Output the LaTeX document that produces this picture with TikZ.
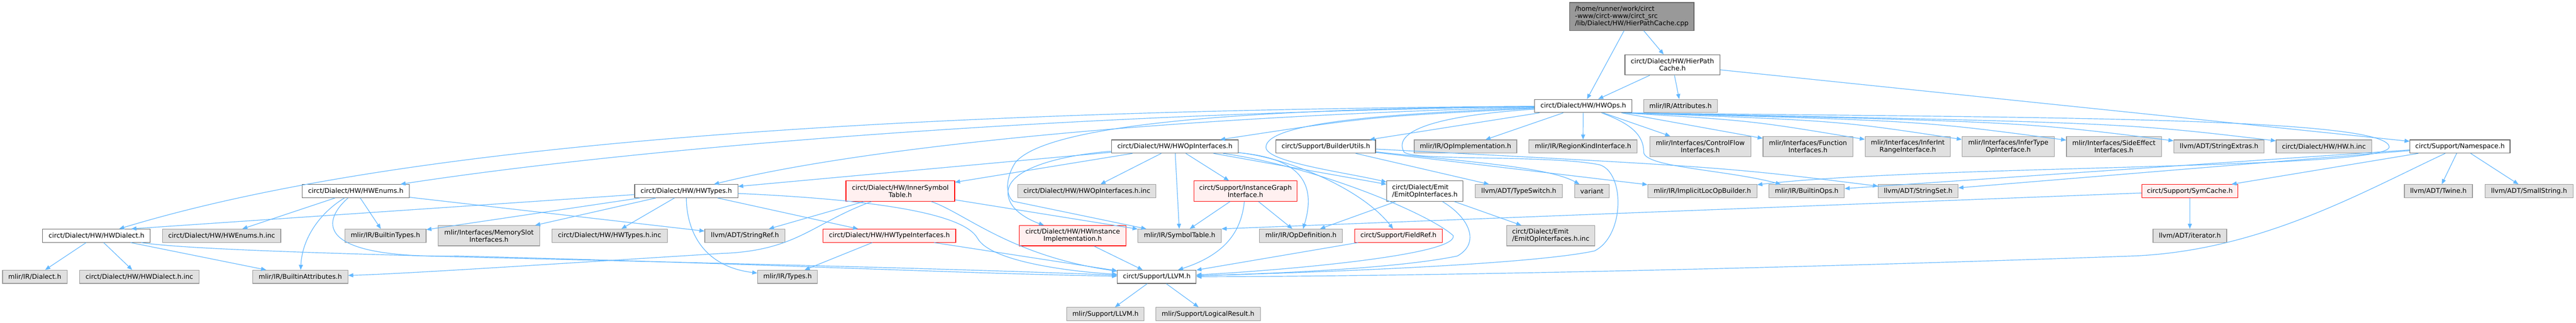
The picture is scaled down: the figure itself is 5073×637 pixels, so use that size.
\documentclass[tikz,border=0pt]{standalone}
\usepackage{fontspec}
\setmainfont{DejaVu Sans}
\usetikzlibrary{arrows.meta}
\definecolor{edgec}{HTML}{63B8FF}
\definecolor{gfill}{HTML}{E0E0E0}
\definecolor{gdraw}{HTML}{999999}
\definecolor{wdraw}{HTML}{666666}
\definecolor{rfill}{HTML}{FFF0F0}
\definecolor{rdraw}{HTML}{FF0000}
\definecolor{sfill}{HTML}{999999}
\tikzset{
  base/.style={rectangle, inner sep=0pt, line width=0.9pt, font=\fontsize{9.7}{10.75}\selectfont, align=center, text=black},
  gbox/.style={base, draw=gdraw, fill=gfill},
  wbox/.style={base, draw=wdraw, fill=white},
  rbox/.style={base, draw=rdraw, fill=rfill},
  sbox/.style={base, draw=wdraw, fill=sfill, align=left},
  edge/.style={draw=edgec, line width=0.9pt, -{Triangle[length=7.5pt,width=6pt]}},
}
\newcommand{\NB}[7]{\node[#1, minimum width=#5*0.75pt, minimum height=#6*0.75pt] (#2) at (#3,#4) {#7};}
\begin{document}
\begin{tikzpicture}[x=0.75pt,y=-0.75pt]
\useasboundingbox[fill=white] (0,0) rectangle (5073,637);
% row 0-2
\NB{sbox}{src}{3213.5}{32.5}{245}{55}{/home/runner/work/circt\\-www/circt-www/circt\_src\\/lib/Dialect/HW/HierPathCache.cpp}
\NB{wbox}{hpc}{3293.5}{128}{187}{40}{circt/Dialect/HW/HierPath\\Cache.h}
\NB{wbox}{hwops}{3118}{209}{192}{26}{circt/Dialect/HW/HWOps.h}
\NB{gbox}{attr}{3309.5}{209}{145}{26}{mlir/IR/Attributes.h}
% row 3
\NB{wbox}{hwopif}{2313.7}{289}{250}{26}{circt/Dialect/HW/HWOpInterfaces.h}
\NB{wbox}{bu}{2611}{289}{196}{26}{circt/Support/BuilderUtils.h}
\NB{gbox}{opimpl}{2886}{289}{202}{26}{mlir/IR/OpImplementation.h}
\NB{gbox}{regkind}{3117.5}{289}{213}{26}{mlir/IR/RegionKindInterface.h}
\NB{gbox}{cflow}{3348.5}{289}{199}{40}{mlir/Interfaces/ControlFlow\\Interfaces.h}
\NB{gbox}{func}{3560.5}{289}{177}{40}{mlir/Interfaces/Function\\Interfaces.h}
\NB{gbox}{inferint}{3757}{289}{168}{40}{mlir/Interfaces/InferInt\\RangeInterface.h}
\NB{gbox}{infertype}{3955}{289}{182}{40}{mlir/Interfaces/InferType\\OpInterface.h}
\NB{gbox}{sideeff}{4163}{289}{187}{40}{mlir/Interfaces/SideEffect\\Interfaces.h}
\NB{gbox}{strext}{4370}{289}{178}{26}{llvm/ADT/StringExtras.h}
\NB{gbox}{hwinc}{4576.5}{289}{188}{26}{circt/Dialect/HW/HW.h.inc}
\NB{wbox}{ns}{4844.5}{289}{197}{26}{circt/Support/Namespace.h}
% row 4
\NB{wbox}{hwenums}{700.5}{377}{211}{26}{circt/Dialect/HW/HWEnums.h}
\NB{wbox}{hwtypes}{1351.5}{377}{203}{26}{circt/Dialect/HW/HWTypes.h}
\NB{rbox}{innersym}{1773}{377}{214}{40}{circt/Dialect/HW/InnerSymbol\\Table.h}
\NB{gbox}{hwopifinc}{2140.5}{377}{272}{26}{circt/Dialect/HW/HWOpInterfaces.h.inc}
\NB{rbox}{igi}{2452.7}{377}{203}{40}{circt/Support/InstanceGraph\\Interface.h}
\node[wbox, align=left, minimum width=150*0.75pt, minimum height=40*0.75pt] (emitif) at (2806,377) {circt/Dialect/Emit\\/EmitOpInterfaces.h};
\NB{gbox}{typeswitch}{2991}{377}{171}{26}{llvm/ADT/TypeSwitch.h}
\NB{gbox}{variant}{3135}{377}{68}{26}{variant}
\NB{gbox}{implicit}{3352.5}{377}{215}{26}{mlir/IR/ImplicitLocOpBuilder.h}
\NB{gbox}{builtinops}{3558}{377}{148}{26}{mlir/IR/BuiltinOps.h}
\NB{gbox}{strset}{3777.5}{377}{157}{26}{llvm/ADT/StringSet.h}
\NB{rbox}{symcache}{4312.5}{377}{189}{26}{circt/Support/SymCache.h}
\NB{gbox}{twine}{4802}{377}{134}{26}{llvm/ADT/Twine.h}
\NB{gbox}{smallstr}{4980.5}{377}{173}{26}{llvm/ADT/SmallString.h}
% row 5
\NB{wbox}{hwdialect}{190}{465}{212}{26}{circt/Dialect/HW/HWDialect.h}
\NB{gbox}{hwenumsinc}{436.5}{465}{233}{26}{circt/Dialect/HW/HWEnums.h.inc}
\NB{gbox}{builtintypes}{759}{465}{160}{26}{mlir/IR/BuiltinTypes.h}
\NB{gbox}{memslot}{963}{465}{200}{40}{mlir/Interfaces/MemorySlot\\Interfaces.h}
\NB{gbox}{hwtypesinc}{1200.5}{465}{227}{26}{circt/Dialect/HW/HWTypes.h.inc}
\NB{gbox}{strref}{1467}{465}{158}{26}{llvm/ADT/StringRef.h}
\NB{rbox}{hwtypeif}{1751.5}{465}{261}{26}{circt/Dialect/HW/HWTypeInterfaces.h}
\NB{rbox}{hwinst}{2112.5}{465}{210}{40}{circt/Dialect/HW/HWInstance\\Implementation.h}
\NB{gbox}{symtab}{2323}{465}{164}{26}{mlir/IR/SymbolTable.h}
\NB{gbox}{opdef}{2562}{465}{163}{26}{mlir/IR/OpDefinition.h}
\NB{rbox}{fieldref}{2754}{465}{172}{26}{circt/Support/FieldRef.h}
\node[gbox, align=left, minimum width=174*0.75pt, minimum height=40*0.75pt] (emitinc) at (3054,465) {circt/Dialect/Emit\\/EmitOpInterfaces.h.inc};
\NB{gbox}{iter}{4312.5}{465}{145}{26}{llvm/ADT/iterator.h}
% row 6
\NB{gbox}{dialect}{68.5}{546}{127}{26}{mlir/IR/Dialect.h}
\NB{gbox}{hwdialectinc}{274.5}{546}{235}{26}{circt/Dialect/HW/HWDialect.h.inc}
\NB{gbox}{builtinattr}{591.5}{546}{187}{26}{mlir/IR/BuiltinAttributes.h}
\NB{gbox}{types}{1551}{546}{118}{26}{mlir/IR/Types.h}
\NB{wbox}{llvm}{2278}{546}{155}{26}{circt/Support/LLVM.h}
% row 7
\NB{gbox}{mllvm}{2177}{619.5}{152}{26}{mlir/Support/LLVM.h}
\NB{gbox}{logres}{2379}{619.5}{206}{26}{mlir/Support/LogicalResult.h}

% ---- edges ----
\draw[edge] (src) -- (hwops);
\draw[edge] (src) -- (hpc);
\draw[edge] (hpc) -- (hwops);
\draw[edge] (hpc) -- (attr);
\draw[edge] (hpc) -- (ns);
% HWOps
\draw[edge] (hwops) .. controls (1500,220) and (700,310) .. (hwdialect);
\draw[edge] (hwops) .. controls (2000,225) and (1200,300) .. (hwenums);
\draw[edge] (hwops) .. controls (2300,230) and (1700,290) .. (hwtypes);
\draw[edge] (hwops) .. controls (2700,230) .. (hwopif);
\draw[edge] (hwops) -- (bu);
\draw[edge] (hwops) -- (opimpl);
\draw[edge] (hwops) -- (regkind);
\draw[edge] (hwops) -- (cflow);
\draw[edge] (hwops) -- (func);
\draw[edge] ([xshift=-14pt]hwops.south east) .. controls (3450,238) .. (inferint);
\draw[edge] ([xshift=-10pt]hwops.south east) .. controls (3620,238) .. (infertype);
\draw[edge] ([xshift=-7pt]hwops.south east) .. controls (3780,238) .. (sideeff);
\draw[edge] ([xshift=-4pt]hwops.south east) .. controls (3980,240) .. (strext);
\draw[edge] ([xshift=-2pt]hwops.south east) .. controls (4180,242) .. (hwinc);
\draw[edge] (hwops) .. controls (2400,215) and (2060,250) .. (2000,320) .. controls (1980,350) and (1980,385) .. (1995,397) -- (symtab);
\draw[edge] (hwops) .. controls (2700,225) and (2495,245) .. (2493,290) .. controls (2492,320) and (2650,340) .. (emitif);
\draw[edge] (hwops) .. controls (2800,230) and (2745,265) .. (2765,300) .. controls (2785,318) and (3050,305) .. (3150,325) .. controls (3200,340) and (3200,465) .. (3140,495) .. controls (3000,525) and (2500,540) .. (llvm);
\draw[edge] (hwops) .. controls (3200,240) and (3237,260) .. (3237,300) .. controls (3237,330) and (3400,335) .. (builtinops);
\draw[edge] (hwops.south east) .. controls (3900,232) and (4705,228) .. (4705,290) .. controls (4705,335) and (3800,325) .. (implicit);
% BuilderUtils
\draw[edge] (bu) -- (typeswitch);
\draw[edge] (bu) .. controls (2900,320) and (3050,330) .. (variant);
\draw[edge] (bu) -- (implicit);
\draw[edge] (bu) .. controls (3400,330) .. (strset);
% HWOpInterfaces
\draw[edge] (hwopif) -- (hwtypes);
\draw[edge] (hwopif) -- (innersym);
\draw[edge] (hwopif) -- (hwopifinc);
\draw[edge] (hwopif) -- (symtab);
\draw[edge] (hwopif) -- (igi);
\draw[edge] (hwopif) .. controls (2530,310) and (2600,340) .. (opdef);
\draw[edge] (hwopif) .. controls (2530,310) and (2680,370) .. (fieldref);
\draw[edge] (hwopif) -- (emitif);
\draw[edge] (hwopif) .. controls (2600,330) and (2820,425) .. (2862,465) .. controls (2870,505) and (2500,535) .. (llvm);
\draw[edge] (hwopif) .. controls (2100,305) and (1985,330) .. (1985,380) .. controls (1985,415) and (2030,435) .. (hwinst);
% EmitOpInterfaces
\draw[edge] (emitif) -- (opdef);
\draw[edge] (emitif) -- (emitinc);
\draw[edge] (emitif) .. controls (2895,430) and (2915,480) .. (2870,505) .. controls (2750,530) and (2500,540) .. (llvm);
% InstanceGraphInterface
\draw[edge] (igi) -- (symtab);
\draw[edge] (igi) -- (opdef);
\draw[edge] (igi) .. controls (2445,450) and (2420,500) .. (llvm);
% InnerSymbolTable
\draw[edge] (innersym) -- (strref);
\draw[edge] (innersym) -- (symtab);
\draw[edge] (innersym) .. controls (1900,420) and (1990,505) .. (llvm);
\draw[edge] (innersym) .. controls (1600,440) and (1570,495) .. (1420,500) .. controls (1100,520) and (800,540) .. (builtinattr);
% HWTypes
\draw[edge] (hwtypes) -- ([xshift=-28.5pt]hwdialect.north east);
\draw[edge] (hwtypes) -- (builtintypes);
\draw[edge] (hwtypes) -- (memslot);
\draw[edge] (hwtypes) -- (hwtypesinc);
\draw[edge] (hwtypes) .. controls (1352,450) and (1380,525) .. (types);
\draw[edge] (hwtypes) -- (hwtypeif);
\draw[edge] (hwtypes) .. controls (1750,395) and (1900,425) .. (1925,470) .. controls (1950,515) and (2100,535) .. (llvm);
% HWTypeInterfaces, HWInstanceImpl, FieldRef
\draw[edge] (hwtypeif) -- (types);
\draw[edge] (hwtypeif) -- (llvm);
\draw[edge] (hwinst) -- (llvm);
\draw[edge] (fieldref) -- (llvm);
% SymCache
\draw[edge] (symcache) -- (symtab.north east);
\draw[edge] (symcache) -- (iter);
% Namespace
\draw[edge] (ns) -- (symcache);
\draw[edge] (ns) -- (builtinops);
\draw[edge] (ns) -- (strset);
\draw[edge] (ns) -- (twine);
\draw[edge] (ns) -- (smallstr);
\draw[edge] (ns) .. controls (4650,380) and (4450,495) .. (4200,505) .. controls (3500,530) and (2800,545) .. (llvm);
% LLVM
\draw[edge] (llvm) -- (mllvm);
\draw[edge] (llvm) -- (logres);
% HWEnums
\draw[edge] (hwenums) -- (hwenumsinc);
\draw[edge] (hwenums) -- (builtintypes);
\draw[edge] (hwenums) -- (strref);
\draw[edge] (hwenums) .. controls (630,420) and (595,470) .. (builtinattr);
\draw[edge] (hwenums) .. controls (630,440) and (625,510) .. (900,505) .. controls (1500,520) and (1900,540) .. (llvm);
% HWDialect
\draw[edge] (hwdialect) -- (dialect);
\draw[edge] (hwdialect) -- (hwdialectinc);
\draw[edge] (hwdialect) -- (builtinattr);
\draw[edge] (hwdialect) .. controls (450,505) and (1500,515) .. (llvm);
\end{tikzpicture}
\end{document}
